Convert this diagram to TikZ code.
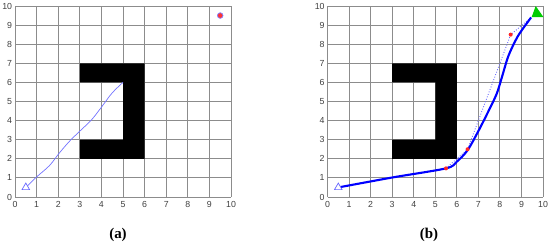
\documentclass[tikz,border=0pt]{standalone}
\usepackage{fontspec}
\setmainfont{Liberation Serif}
\newfontfamily\axisfont{Liberation Sans}
\usetikzlibrary{arrows,shapes}
\tikzstyle{gline}=[draw=black!45,line width=0.5pt]
\tikzstyle{tick}=[font=\axisfont\fontsize{5}{6}\selectfont,text=black!75,inner sep=0pt]
\tikzstyle{wall}=[fill=black]
\tikzstyle{tpath}=[draw=blue!55,line width=0.4pt]
\tikzstyle{bpath}=[draw=blue,line width=1.2pt]
\tikzstyle{wpath}=[draw=blue!60,line width=0.5pt,densely dotted]
\tikzstyle{wpt}=[circle,fill=red!85,inner sep=0pt,minimum size=2.3pt]
\tikzstyle{startm}=[regular polygon,regular polygon sides=3,draw=blue!60,fill=white,line width=0.4pt,inner sep=0pt,minimum size=5pt]
\tikzstyle{goalm}=[circle,draw=blue!50,fill=red!80,line width=0.4pt,inner sep=0pt,minimum size=3.2pt]
\tikzstyle{robot}=[isosceles triangle,isosceles triangle apex angle=70,shape border uses incircle,shape border rotate=215,fill=green!80!black,inner sep=0pt,minimum height=5.5pt,minimum width=5.5pt,anchor=apex]
\tikzstyle{capt}=[font=\fontsize{8.5}{10}\selectfont\bfseries]

\begin{document}
\begin{tikzpicture}
\useasboundingbox (0,0) rectangle (11,4.88);
% (a) planned path
\begin{scope}[shift={(0.30,0.94)},x=0.432cm,y=0.382cm]
\foreach \i in {0,...,10} {
  \draw[gline] (\i,0)--(\i,10);
  \draw[gline] (0,\i)--(10,\i);
  \node[tick] (xa\i) at (\i,-0.37) {\i};
  \node[tick,anchor=east] (ya\i) at (-0.12,\i) {\i};
}
\fill[wall] (3,2)--(6,2)--(6,7)--(3,7)--(3,6)--(5,6)--(5,3)--(3,3)--cycle;
\coordinate (startA) at (0.5,0.5);
\coordinate (endA) at (5,6);
\draw[tpath] plot[smooth,tension=0.6] coordinates {(startA) (1.0,1.05) (1.6,1.65) (2.05,2.3) (2.55,2.95) (3.05,3.5) (3.55,4.05) (4.0,4.7) (4.5,5.45) (endA)};
\node[startm] (sA) at (startA) {};
\node[goalm] (gA) at (9.5,9.5) {};
\end{scope}
% (b) replanned path
\begin{scope}[shift={(6.55,0.94)},x=0.431cm,y=0.382cm]
\foreach \i in {0,...,10} {
  \draw[gline] (\i,0)--(\i,10);
  \draw[gline] (0,\i)--(10,\i);
  \node[tick] (xb\i) at (\i,-0.37) {\i};
  \node[tick,anchor=east] (yb\i) at (-0.12,\i) {\i};
}
\fill[wall] (3,2)--(6,2)--(6,7)--(3,7)--(3,6)--(5,6)--(5,3)--(3,3)--cycle;
\coordinate (startB) at (0.5,0.5);
\coordinate (w1) at (5.5,1.5);
\coordinate (w2) at (6.5,2.5);
\coordinate (w3) at (8.5,8.5);
\coordinate (goalB) at (9.45,9.4);
\draw[wpath] (w1)--(w2)--(w3)--(goalB);
\draw[bpath] plot[smooth,tension=0.5] coordinates {(startB) (3.0,1.02) (5.5,1.5) (6.0,1.85) (6.5,2.45) (7.0,3.45) (7.45,4.45) (7.85,5.4) (8.1,6.3) (8.4,7.4) (8.85,8.45) (goalB)};
\node[wpt] (p1) at (w1) {};
\node[wpt] (p2) at (w2) {};
\node[wpt] (p3) at (w3) {};
\node[startm] (sB) at (startB) {};
\node[robot] (rB) at (goalB) {};
\end{scope}
\node[capt] (ca) at (2.36,0.18) {(a)};
\node[capt] (cb) at (8.58,0.18) {(b)};
\end{tikzpicture}
\end{document}
